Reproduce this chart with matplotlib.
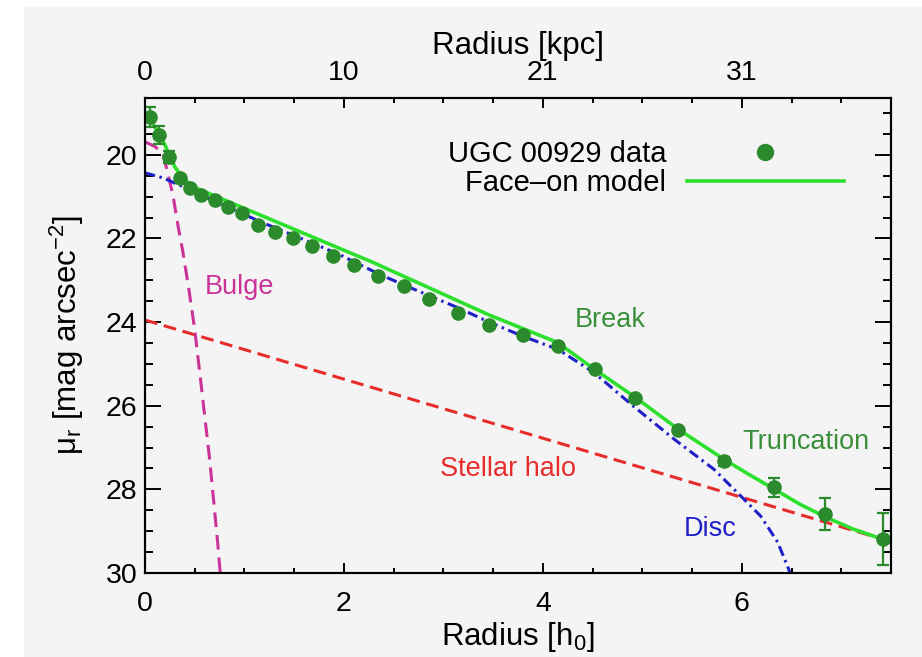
import numpy as np
import matplotlib
matplotlib.use('Agg')
import matplotlib.pyplot as plt
import matplotlib.patches as patches
from matplotlib.ticker import MultipleLocator, FixedLocator, FixedFormatter
from matplotlib.lines import Line2D

plt.rcParams['font.family'] = ['Liberation Sans', 'DejaVu Sans']
plt.rcParams['mathtext.fontset'] = 'custom'
plt.rcParams['mathtext.rm'] = 'Liberation Sans'
plt.rcParams['mathtext.it'] = 'Liberation Sans:italic'

# ── UGC 00929 surface-brightness profile ──
r_data = [0.05, 0.14, 0.24, 0.35, 0.45, 0.56, 0.70, 0.83, 0.98, 1.14,
          1.31, 1.49, 1.68, 1.89, 2.10, 2.34, 2.60, 2.86, 3.15, 3.46,
          3.80, 4.15, 4.52, 4.93, 5.36, 5.82, 6.32, 6.84, 7.42]
mu_data = [19.09, 19.52, 20.05, 20.55, 20.79, 20.95, 21.07, 21.24, 21.38, 21.67,
           21.84, 21.98, 22.17, 22.41, 22.63, 22.89, 23.13, 23.44, 23.77, 24.06,
           24.30, 24.58, 25.13, 25.82, 26.59, 27.33, 27.95, 28.59, 29.19]
mu_err = [0.24, 0.22, 0.15, 0.05, 0.04, 0.04, 0.04, 0.04, 0.04, 0.04,
          0.04, 0.04, 0.04, 0.04, 0.04, 0.04, 0.04, 0.04, 0.04, 0.04,
          0.05, 0.05, 0.05, 0.06, 0.07, 0.10, 0.23, 0.38, 0.62]

# face-on model (sum of components)
r_model = [0.02, 0.20, 0.30, 0.38, 0.48, 0.96, 1.46, 2.30, 3.47, 4.15,
           4.52, 4.93, 5.36, 5.82, 6.07, 6.33, 6.58, 6.84, 7.12, 7.50]
mu_model = [19.00, 19.76, 20.29, 20.55, 20.76, 21.24, 21.74, 22.58, 23.84, 24.49,
            25.13, 25.80, 26.56, 27.28, 27.64, 28.00, 28.35, 28.66, 28.95, 29.26]

# disc component (broken exponential)
r_disc = [0.00, 0.18, 0.38, 1.16, 1.53, 1.96, 2.36, 2.76, 3.14, 3.47,
          3.80, 4.15, 4.51, 4.91, 5.32, 5.72, 5.99, 6.19, 6.36, 6.47, 6.50]
mu_disc = [20.43, 20.55, 20.76, 21.60, 21.96, 22.39, 22.86, 23.27, 23.65, 24.01,
           24.34, 24.65, 25.20, 26.01, 26.80, 27.52, 28.16, 28.64, 29.26, 29.90, 30.10]

# bulge component
r_bulge = [0.00, 0.10, 0.18, 0.22, 0.28, 0.33, 0.38, 0.44, 0.50, 0.55,
           0.65, 0.73, 0.76]
mu_bulge = [19.69, 19.80, 19.98, 20.35, 20.95, 21.67, 22.31, 23.20, 24.18, 25.20,
            27.28, 29.26, 30.10]

# stellar halo component
r_halo = [0.0, 7.5]
mu_halo = [23.95, 29.25]

kpc_pos = [0, 2, 4, 6]
kpc_labels = ['0', '10', '21', '31']

c_data = '#2b8a2b'
c_model = '#2ee02e'
c_bulge = '#cc3399'
c_halo = '#e82c2c'
c_disc = '#2020c8'
c_note = '#3a8f3a'

# ── figure ────────────────────────────────────────────────────
fig = plt.figure(figsize=(9.22, 6.57), dpi=100)
fig.patch.set_facecolor('#f4f4f4')
fig.patches.append(patches.Rectangle((0, 0), 24 / 922, 1, transform=fig.transFigure,
                                     facecolor='white', edgecolor='none', zorder=-1))
fig.patches.append(patches.Rectangle((0, 1 - 7 / 657), 1, 7 / 657, transform=fig.transFigure,
                                     facecolor='white', edgecolor='none', zorder=-1))

ax = fig.add_axes([145 / 922, 1 - 573 / 657, 746 / 922, 475 / 657])
ax.set_facecolor('#f4f4f4')

ax.plot(r_halo, mu_halo, color=c_halo, lw=2.2, dashes=(4.2, 2.2), zorder=2)
ax.plot(r_bulge, mu_bulge, color=c_bulge, lw=2.2, dashes=(4.8, 2.6), zorder=2)
ax.plot(r_disc, mu_disc, color=c_disc, lw=2.2, dashes=(3.4, 1.5, 0.8, 1.5), zorder=2)
ax.plot(r_model, mu_model, color=c_model, lw=2.6, zorder=3)
ax.errorbar(r_data, mu_data, yerr=mu_err, fmt='o', color=c_data, ms=9.5,
            elinewidth=1.6, capsize=4, capthick=1.6, zorder=4)

ax.set_xlim(0, 7.5)
ax.set_ylim(30, 18.64)
ax.xaxis.set_major_locator(MultipleLocator(2))
ax.xaxis.set_minor_locator(MultipleLocator(0.5))
ax.yaxis.set_major_locator(MultipleLocator(2))
ax.yaxis.set_minor_locator(MultipleLocator(0.5))

ax.tick_params(axis='x', which='major', direction='in', length=7.2, width=1.4,
               labelsize=20.5, pad=13, top=False)
ax.tick_params(axis='x', which='minor', direction='in', length=3.6, width=1.4, top=False)
ax.tick_params(axis='y', which='major', direction='in', length=11.5, width=1.4,
               labelsize=20.5, pad=5.5, right=True)
ax.tick_params(axis='y', which='minor', direction='in', length=5.8, width=1.4, right=True)
for sp in ax.spines.values():
    sp.set_linewidth(1.5)

ax.set_xlabel('Radius [h$_\\mathrm{0}$]', fontsize=22.5, labelpad=2)
ax.set_ylabel('\u03bc$_\\mathrm{r}$ [mag arcsec$^{\\mathrm{-2}}$]', fontsize=22.5, labelpad=14)

# top axis in kpc
axt = ax.twiny()
axt.set_xlim(ax.get_xlim())
axt.xaxis.set_major_locator(FixedLocator(kpc_pos))
axt.xaxis.set_major_formatter(FixedFormatter(kpc_labels))
axt.xaxis.set_minor_locator(MultipleLocator(0.5))
axt.tick_params(axis='x', which='major', direction='in', length=7.2, width=1.4,
                labelsize=20.5, pad=9)
axt.tick_params(axis='x', which='minor', direction='in', length=3.6, width=1.4)
for sp in axt.spines.values():
    sp.set_linewidth(1.5)
axt.set_xlabel('Radius [kpc]', fontsize=22.5, labelpad=4)

# component labels
ax.text(0.60, 23.15, 'Bulge', color=c_bulge, fontsize=19.5, va='center')
ax.text(4.32, 23.94, 'Break', color=c_note, fontsize=19.5, va='center')
ax.text(6.01, 26.87, 'Truncation', color=c_note, fontsize=19.5, va='center')
ax.text(2.97, 27.52, 'Stellar halo', color=c_halo, fontsize=19.5, va='center')
ax.text(5.42, 28.95, 'Disc', color=c_disc, fontsize=19.5, va='center')

# legend: label on the left, symbol on the right
handles = [Line2D([], [], ls='none', marker='o', ms=11.5, color=c_data),
           Line2D([], [], color=c_model, lw=2.6)]
ax.legend(handles, ['UGC 00929 data', 'Face\u2013on model'], loc='upper right',
          bbox_to_anchor=(0.937, 0.912), frameon=False, markerfirst=False,
          fontsize=21, handlelength=5.4, handletextpad=0.7, labelspacing=0.05,
          borderpad=0, borderaxespad=0)

fig.savefig('out.png', dpi=100, facecolor=fig.get_facecolor())
